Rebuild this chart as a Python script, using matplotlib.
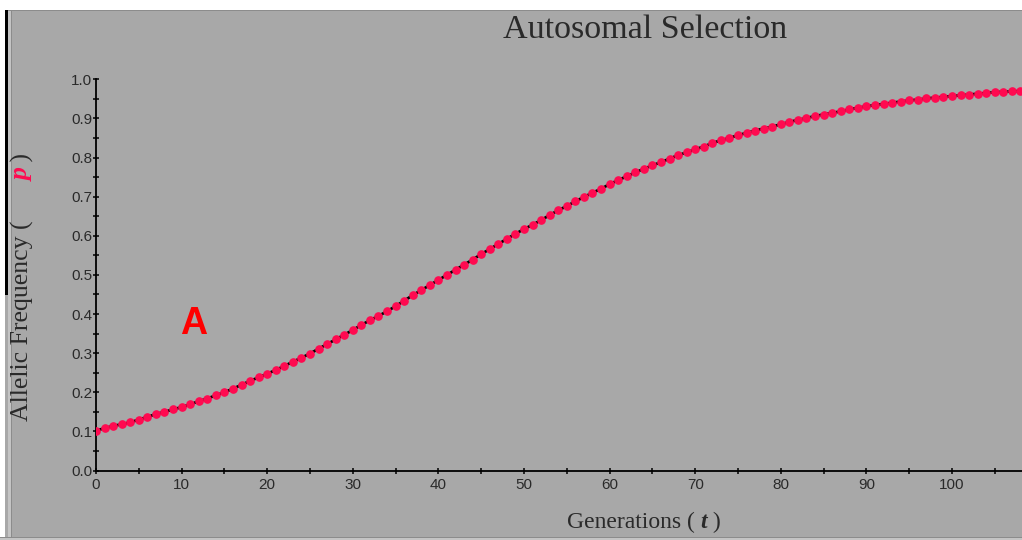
import matplotlib
matplotlib.use("Agg")
import matplotlib.pyplot as plt
from matplotlib.ticker import MultipleLocator
from matplotlib.patches import Rectangle
from matplotlib.transforms import IdentityTransform

# values, one point per generation
generations = list(range(0, 109))
allele_freq = [
    0.102, 0.108, 0.114, 0.118, 0.123, 0.130, 0.137, 0.144, 0.150, 0.156,
    0.162, 0.169, 0.177, 0.184, 0.192, 0.200, 0.209, 0.219, 0.229, 0.238,
    0.247, 0.257, 0.267, 0.278, 0.288, 0.299, 0.311, 0.323, 0.335, 0.347,
    0.359, 0.372, 0.384, 0.395, 0.407, 0.420, 0.434, 0.448, 0.461, 0.474,
    0.487, 0.500, 0.513, 0.526, 0.539, 0.553, 0.566, 0.579, 0.592, 0.605,
    0.617, 0.628, 0.640, 0.653, 0.665, 0.676, 0.688, 0.699, 0.710, 0.720,
    0.732, 0.742, 0.752, 0.762, 0.771, 0.780, 0.788, 0.797, 0.806, 0.813,
    0.821, 0.828, 0.837, 0.844, 0.850, 0.857, 0.863, 0.869, 0.874, 0.879,
    0.885, 0.891, 0.896, 0.901, 0.906, 0.910, 0.914, 0.918, 0.923, 0.927,
    0.931, 0.934, 0.937, 0.940, 0.943, 0.946, 0.948, 0.951, 0.953, 0.955,
    0.957, 0.959, 0.961, 0.963, 0.965, 0.967, 0.968, 0.969, 0.970,
]

title = "Autosomal Selection"
xlabel_parts = ["Generations ( ", "t", " )"]
ylabel_parts = ["Allelic Frequency (", "p", " )"]
panel_tag = "A"

BG = "#a8a8a8"
DOT = "#ff0a50"
TXT = "#2a2a2a"
W, H = 1022, 540
PX_PER_GEN = 8.56

fig = plt.figure(figsize=(W / 100, H / 100), dpi=100, facecolor=BG)

# window frame bits around the chart
frame = [
    ((0, 530), W, 10, "white"),
    ((0, 529), W, 1.5, "#8c8c8c"),
    ((0, 0), 5, 530, "white"),
    ((5, 245), 3, 285, "black"),
    ((8, 0), 3, 529, "#c4c4c4"),
    ((11, 0), 1, 529, "#8c8c8c"),
    ((0, 0), W, 2, "#c4c4c4"),
    ((0, 2), W, 1.5, "#8c8c8c"),
]
for xy, w, h, c in frame:
    fig.add_artist(Rectangle(xy, w, h, transform=IdentityTransform(), color=c, lw=0))

ax = fig.add_axes([96 / W, 69.5 / H, (W - 96) / W, (470.5 - 79.3) / H])
ax.set_facecolor(BG)
ax.plot(generations, allele_freq, color="black", lw=2.0, marker="o", ms=5.2,
        mfc=DOT, mec=DOT, zorder=3)

ax.set_xlim(0, (W - 96) / PX_PER_GEN)
ax.set_ylim(0, 1.0)
ax.xaxis.set_major_locator(MultipleLocator(10))
ax.xaxis.set_minor_locator(MultipleLocator(5))
ax.yaxis.set_major_locator(MultipleLocator(0.1))
ax.yaxis.set_minor_locator(MultipleLocator(0.05))
ax.yaxis.set_major_formatter(plt.FormatStrFormatter("%.1f"))

for s in ["top", "right"]:
    ax.spines[s].set_visible(False)
for s in ["left", "bottom"]:
    ax.spines[s].set_linewidth(1.3)
    ax.spines[s].set_color("black")

ax.tick_params(which="both", direction="inout", length=4.5, width=1.1, color="black",
               labelsize=11, labelcolor=TXT)
ax.tick_params(axis="x", pad=3.5)
ax.tick_params(axis="y", pad=0.5)
for lbl in ax.get_xticklabels() + ax.get_yticklabels():
    lbl.set_family("Liberation Sans")
    lbl.set_fontstretch("condensed")

fig.text(645 / W, 1 - 29.5 / H, title, ha="center", va="center",
         family="Liberation Serif", fontsize=24.5, color=TXT)

ax.text(11.4, 0.374, panel_tag, color="red", fontsize=27, fontweight="bold",
        family="Liberation Sans", ha="center", va="center")

# axis labels made of pieces, the variable drawn bold italic
renderer = fig.canvas.get_renderer()
x0 = 567
for i, s in enumerate(xlabel_parts):
    t = fig.text(x0, H - 522, s, transform=IdentityTransform(), va="center", ha="left",
                 family="Liberation Serif", fontsize=17, color=TXT,
                 fontweight="bold" if i == 1 else "normal",
                 style="italic" if i == 1 else "normal")
    x0 = t.get_window_extent(renderer).x1

# the p sits well apart from the bracket in the reference
y_starts = [H - 421, H - 181, None]
y0 = None
for i, s in enumerate(ylabel_parts):
    if y_starts[i] is not None:
        y0 = y_starts[i]
    t = fig.text(22, y0, s, transform=IdentityTransform(), rotation=90, ha="center",
                 va="bottom", family="Liberation Serif", fontsize=18.5,
                 color=DOT if i == 1 else TXT,
                 fontweight="bold" if i == 1 else "normal",
                 style="italic" if i == 1 else "normal")
    y0 = t.get_window_extent(renderer).y1

fig.savefig("out.png", dpi=100, facecolor=BG)
